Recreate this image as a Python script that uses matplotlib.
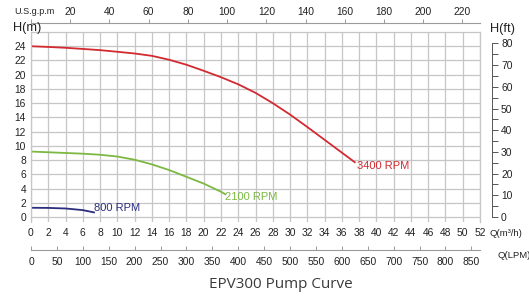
import matplotlib
matplotlib.use('Agg')
import matplotlib.pyplot as plt
import numpy as np

# ---- data (flow in m3/h, head in m) ----
q_3400 = [0, 2, 4, 6, 8, 10, 12, 14, 16, 18, 20, 22, 24, 26, 28, 30, 32, 34, 36, 37.5]
h_3400 = [24, 23.9, 23.78, 23.62, 23.45, 23.22, 22.98, 22.65, 22.1, 21.4, 20.55, 19.65, 18.65, 17.45, 16.0, 14.4, 12.65, 10.85, 9.05, 7.7]
q_2100 = [0, 2, 4, 6, 8, 10, 12, 14, 16, 18, 20, 22, 22.5]
h_2100 = [9.2, 9.1, 9.0, 8.9, 8.75, 8.5, 8.05, 7.4, 6.6, 5.65, 4.7, 3.55, 3.2]
q_800 = [0, 2, 4, 6, 7.3]
h_800 = [1.3, 1.28, 1.2, 0.97, 0.65]
series_labels = ["3400 RPM", "2100 RPM", "800 RPM"]
x_ticks_m3h = list(range(0, 53, 2))
y_ticks_m = list(range(0, 25, 2))
gpm_ticks = list(range(0, 221, 20))
lpm_ticks = list(range(0, 851, 50))
ft_ticks = list(range(0, 81, 10))
title = "EPV300 Pump Curve"

RED = "#d12a30"
GREEN = "#7cb842"
BLUE = "#2b2e7d"
GRID = "#c6c6c6"
TXT = "#222222"

plt.rcParams['font.family'] = ['Liberation Sans', 'DejaVu Sans']

W, H = 529, 296
fig = plt.figure(figsize=(W / 100, H / 100), dpi=100)
ax_l, ax_r, ax_t, ax_b = 31, 480, 32, 222
ax = fig.add_axes([ax_l / W, 1 - ax_b / H, (ax_r - ax_l) / W, (ax_b - ax_t) / H])
ax.set_xlim(0, 52)
ax.set_ylim(-0.7, 26)
ax.set_xticks(x_ticks_m3h)
ax.set_yticks(y_ticks_m)
ax.grid(True, color=GRID, lw=0.9)
ax.set_axisbelow(True)
for s in ['top', 'right', 'left']:
    ax.spines[s].set_color(GRID)
    ax.spines[s].set_linewidth(0.9)
ax.spines['bottom'].set_visible(False)
ax.tick_params(axis='both', length=0, labelsize=7.4, labelcolor=TXT)
ax.tick_params(axis='x', pad=4.2)
ax.tick_params(axis='y', pad=3.6)

ax.plot(q_3400, h_3400, color=RED, lw=1.3)
ax.plot(q_2100, h_2100, color=GREEN, lw=1.3)
ax.plot(q_800, h_800, color=BLUE, lw=1.3)
ax.text(q_3400[-1] + 0.3, h_3400[-1] - 0.6, series_labels[0], color=RED, fontsize=8, va='center', ha='left')
ax.text(q_2100[-1], h_2100[-1] - 0.4, series_labels[1], color=GREEN, fontsize=8, va='center', ha='left')
ax.text(q_800[-1], h_800[-1] + 0.6, series_labels[2], color=BLUE, fontsize=8, va='center', ha='left')

M3H_GPM = 4.40287
M3H_LPM = 1000 / 60
M_FT = 3.28084
axh = ax_b - ax_t
axw = ax_r - ax_l

# top gpm axis
top = ax.secondary_xaxis(1 + 9 / axh, functions=(lambda x: x * M3H_GPM, lambda x: x / M3H_GPM))
top.set_xticks(gpm_ticks)
top.set_xticklabels([''] + [str(v) for v in gpm_ticks[1:]])
top.spines['top'].set_color('#9a9a9a')
top.spines['top'].set_linewidth(0.8)
top.tick_params(axis='x', direction='out', length=3, width=0.7, color='#9a9a9a', labelsize=7.4, labelcolor=TXT, pad=1.5)

# bottom LPM axis
bot = ax.secondary_xaxis(-28 / axh, functions=(lambda x: x * M3H_LPM, lambda x: x / M3H_LPM))
bot.set_xticks(lpm_ticks)
bot.spines['bottom'].set_color('#9a9a9a')
bot.spines['bottom'].set_linewidth(0.8)
bot.tick_params(axis='x', direction='in', length=3, width=0.7, color='#9a9a9a', labelsize=7.4, labelcolor=TXT, pad=5)

# right ft axis
rt = ax.secondary_yaxis(1 + 12 / axw, functions=(lambda y: y * M_FT, lambda y: y / M_FT))
rt.set_yticks(ft_ticks)
rt.set_yticks(list(range(5, 80, 10)), minor=True)
rt.spines['right'].set_bounds(0, 80)
rt.spines['right'].set_color('#555555')
rt.spines['right'].set_linewidth(0.7)
rt.tick_params(axis='y', which='both', direction='out', length=4, width=0.7, color='#555555', labelsize=7.4, labelcolor=TXT, pad=2.5)

def px(x, y):
    return x / W, 1 - y / H

fig.text(*px(13, 27.5), "H(m)", fontsize=9.2, color=TXT, ha='left', va='center')
fig.text(*px(490, 29), "H(ft)", fontsize=9.2, color=TXT, ha='left', va='center')
fig.text(*px(34, 12), "U.S.g.p.m", fontsize=6.5, color=TXT, ha='center', va='center')
fig.text(*px(490, 233), "Q(m³/h)", fontsize=6.8, color=TXT, ha='left', va='center')
fig.text(*px(497, 256), "Q(LPM)", fontsize=6.8, color=TXT, ha='left', va='center')
fig.text(*px(281, 285), title, fontsize=11, color='#3a3a3a', ha='center', va='center', family=['Open Sans', 'DejaVu Sans'])

fig.savefig('out.png', dpi=100)
